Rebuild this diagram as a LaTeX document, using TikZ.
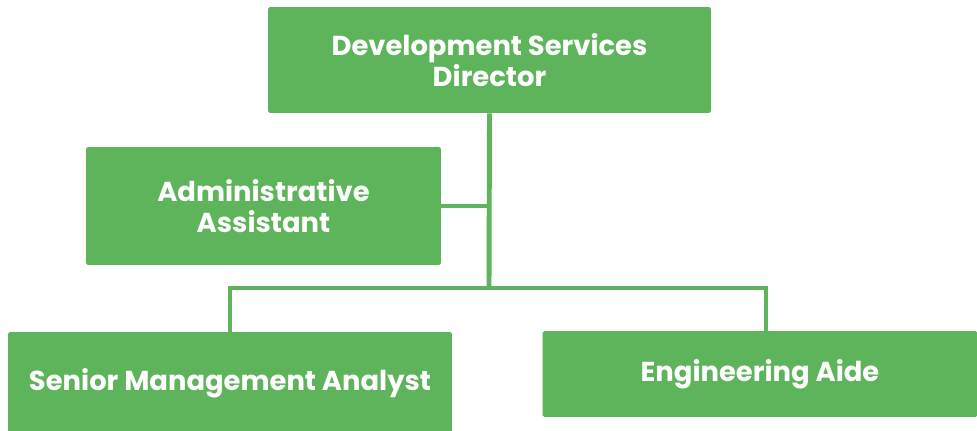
\documentclass[tikz,border=0pt]{standalone}
\usepackage{fontspec}
\setmainfont{Poppins}
\usepackage{tikz}
\usetikzlibrary{calc}

\definecolor{boxgreen}{RGB}{93,180,91}

\tikzset{
	role/.style={rectangle,fill=boxgreen,rounded corners=1pt,text=white,
		font=\bfseries\fontsize{15.6}{17.4}\selectfont,align=center,inner sep=0pt},
	link/.style={draw=boxgreen,line width=2.8pt},
}

\begin{document}
\begin{tikzpicture}[x=0.02cm,y=-0.02cm]
	\useasboundingbox (0,0) rectangle (977,431);
	\node [role,minimum width=8.86cm,minimum height=2.12cm] (dir) at (489.5,60) {Development Services\\ Director};
	\node [role,minimum width=7.1cm,minimum height=2.36cm] (adm) at (263.5,206) {Administrative\\ Assistant};
	\node [role,minimum width=8.88cm,minimum height=2.04cm] (sma) at (230,383) {Senior Management Analyst};
	\node [role,minimum width=8.7cm,minimum height=1.72cm] (eng) at (760,374) {Engineering Aide};
	\coordinate (bus) at (489,288);
	\path [link] (dir.south) -- (bus);
	\path [link] (adm.east) -- (adm.east -| bus);
	\path [link] (sma.north) |- (bus) -| ([xshift=0.12cm]eng.north);
\end{tikzpicture}
\end{document}
